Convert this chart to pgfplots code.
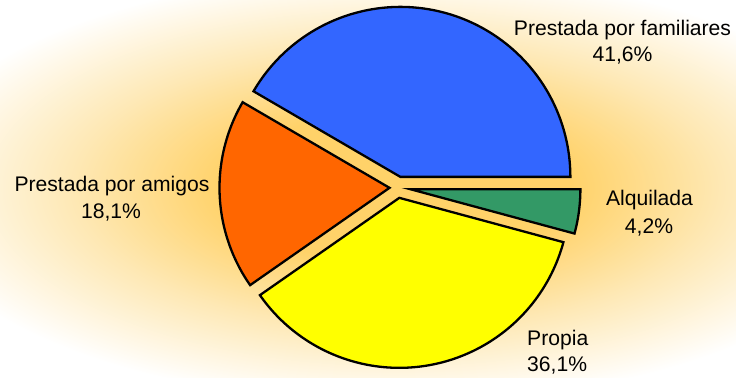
\documentclass[border=0pt]{standalone}
\usepackage{pgfplots}
\pgfplotsset{compat=1.18}
\usepackage{pgfplotstable}
\usepackage{fontspec}
\setmainfont{Liberation Sans}

\definecolor{cBlue}{RGB}{51,102,255}
\definecolor{cOrange}{RGB}{255,102,0}
\definecolor{cYellow}{RGB}{255,255,0}
\definecolor{cGreen}{RGB}{51,153,102}
\definecolor{glow}{RGB}{255,210,105}
\definecolor{glowmid}{RGB}{254,232,180}

\pgfdeclareradialshading{glowshade}{\pgfpoint{0bp}{0bp}}{color(0bp)=(glow); color(8bp)=(glow); color(15bp)=(glowmid); color(23bp)=(white); color(50bp)=(white)}

% slices in counter-clockwise order starting at 0 degrees
\pgfplotstableread{
name value explode
familiares 41.6 11
amigos 18.1 8
propia 36.1 10.5
alquilada 4.2 13
}\piedata

\begin{document}
\begin{tikzpicture}[lbl/.style={anchor=base, font=\fontsize{21.2}{24}\selectfont, text=black, inner sep=0pt}]
\pgfplotstablegetelem{0}{value}\of\piedata \edef\vA{\pgfplotsretval}
\pgfplotstablegetelem{1}{value}\of\piedata \edef\vB{\pgfplotsretval}
\pgfplotstablegetelem{2}{value}\of\piedata \edef\vC{\pgfplotsretval}
\pgfplotstablegetelem{3}{value}\of\piedata \edef\vD{\pgfplotsretval}
\pgfplotstablegetelem{0}{explode}\of\piedata \edef\eA{\pgfplotsretval}
\pgfplotstablegetelem{1}{explode}\of\piedata \edef\eB{\pgfplotsretval}
\pgfplotstablegetelem{2}{explode}\of\piedata \edef\eC{\pgfplotsretval}
\pgfplotstablegetelem{3}{explode}\of\piedata \edef\eD{\pgfplotsretval}
\def\cx{397.5}\def\cy{189.5}\def\R{170}
\pgfmathsetmacro\sA{0}
\pgfmathsetmacro\tA{\sA+3.6*\vA}
\pgfmathsetmacro\sB{\tA}
\pgfmathsetmacro\tB{\sB+3.6*\vB}
\pgfmathsetmacro\sC{\tB}
\pgfmathsetmacro\tC{\sC+3.6*\vC}
\pgfmathsetmacro\sD{\tC}
\pgfmathsetmacro\tD{\sD+3.6*\vD}
\pgfmathsetmacro\pxA{\cx+\eA*cos((\sA+\tA)/2)}\pgfmathsetmacro\pyA{\cy+\eA*sin((\sA+\tA)/2)}
\pgfmathsetmacro\pxB{\cx+\eB*cos((\sB+\tB)/2)}\pgfmathsetmacro\pyB{\cy+\eB*sin((\sB+\tB)/2)}
\pgfmathsetmacro\pxC{\cx+\eC*cos((\sC+\tC)/2)}\pgfmathsetmacro\pyC{\cy+\eC*sin((\sC+\tC)/2)}
\pgfmathsetmacro\pxD{\cx+\eD*cos((\sD+\tD)/2)}\pgfmathsetmacro\pyD{\cy+\eD*sin((\sD+\tD)/2)}
\begin{axis}[
  x=1bp, y=1bp,
  xmin=0, xmax=736, ymin=0, ymax=377,
  hide axis, scale only axis, clip=true,
  slice/.style={draw=black, line width=2.3bp, line join=miter, samples=120, variable=\t},
]
\fill[white] (axis cs:0,0) rectangle (axis cs:736,377);
\begin{scope}
\clip (axis cs:0,0) rectangle (axis cs:736,377);
\shade[shading=glowshade] (axis cs:\cx,\cy) ellipse [x radius=540bp, y radius=235bp];
\end{scope}

\addplot[slice, fill=cBlue, domain=\sA:\tA] ({\pxA+\R*cos(t)}, {\pyA+\R*sin(t)}) -- (axis cs:\pxA,\pyA) -- cycle;
\addplot[slice, fill=cOrange, domain=\sB:\tB] ({\pxB+\R*cos(t)}, {\pyB+\R*sin(t)}) -- (axis cs:\pxB,\pyB) -- cycle;
\addplot[slice, fill=cYellow, domain=\sC:\tC] ({\pxC+\R*cos(t)}, {\pyC+\R*sin(t)}) -- (axis cs:\pxC,\pyC) -- cycle;
\addplot[slice, fill=cGreen, domain=\sD:\tD] ({\pxD+\R*cos(t)}, {\pyD+\R*sin(t)}) -- (axis cs:\pxD,\pyD) -- cycle;

\node[lbl] at (axis cs:622.5,342) {Prestada por familiares};
\node[lbl] at (axis cs:622.5,315.5) {41,6\%};
\node[lbl] at (axis cs:112,185.3) {Prestada por amigos};
\node[lbl] at (axis cs:111,158.7) {18,1\%};
\node[lbl] at (axis cs:649.5,171.3) {Alquilada};
\node[lbl] at (axis cs:649,143.5) {4,2\%};
\node[lbl, anchor=base west] at (axis cs:527,32) {Propia};
\node[lbl, anchor=base west] at (axis cs:527,5.3) {36,1\%};
\end{axis}
\end{tikzpicture}
\end{document}
